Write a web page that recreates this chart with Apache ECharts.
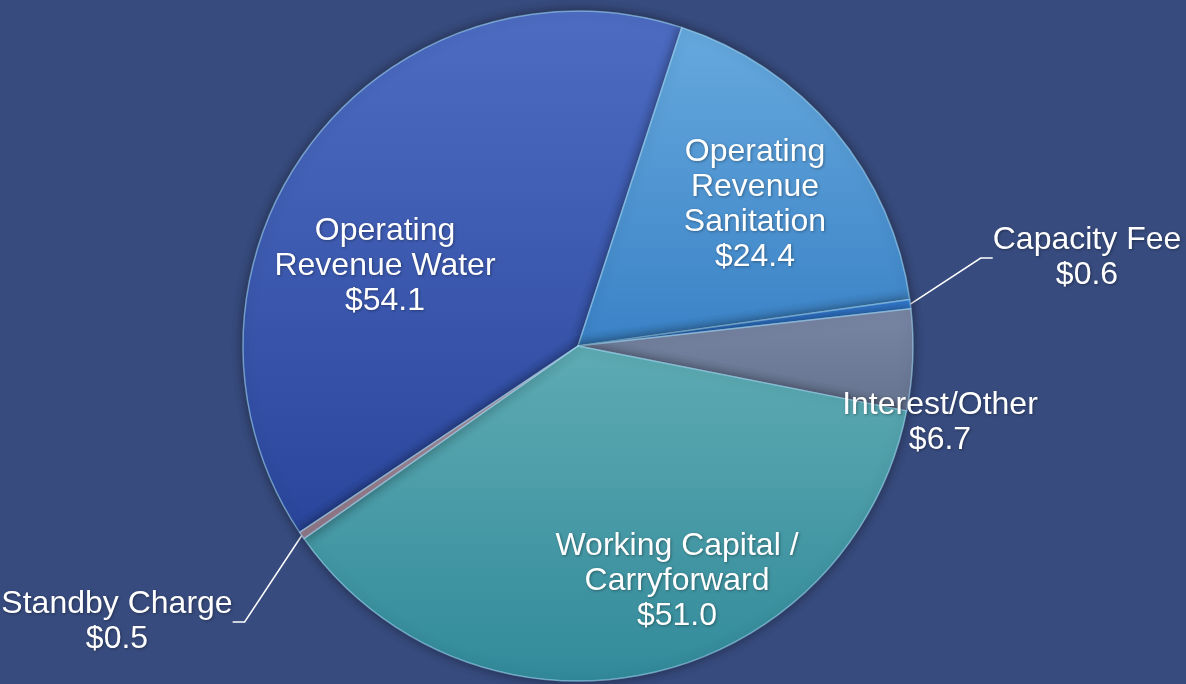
<!DOCTYPE html>
<html>
<head>
<meta charset="utf-8">
<script src="https://cdn.jsdelivr.net/npm/echarts@6/dist/echarts.min.js"></script>
<style>
  html, body { margin: 0; padding: 0; background: #374b7e; }
  #main { width: 1186px; height: 684px; }
</style>
</head>
<body>
<div id="main"></div>
<script>
  // slice names and values ($ millions), clockwise from the Water slice
  var names = ['Operating\nRevenue Water', 'Operating\nRevenue\nSanitation', 'Capacity Fee', 'Interest/Other', 'Working Capital /\nCarryforward', 'Standby Charge'];
  var values = [54.1, 24.4, 0.6, 6.7, 51.0, 0.5];

  // gradient colours per slice [top, bottom]
  var colorsTop = ['#4d6cc2', '#66a9de', '#3580d8', '#7886a4', '#5eabb3', '#a890a0'];
  var colorsBottom = ['#2a469c', '#3a82c6', '#2a6cc4', '#65738f', '#328a9a', '#8f7888'];
  // label centres (Excel places them by hand)
  var labelPos = [[385, 266], [755, 205], [1087, 258], [940, 423], [677, 581], [117, 622]];
  var outside = [false, false, true, false, false, true];

  var chart = echarts.init(document.getElementById('main'));

  var seriesData = [];
  for (var i = 0; i < values.length; i++) {
    seriesData.push({
      name: names[i],
      value: values[i],
      itemStyle: {
        color: new echarts.graphic.LinearGradient(0, 0, 0, 1, [
          { offset: 0, color: colorsTop[i] },
          { offset: 1, color: colorsBottom[i] }
        ])
      },
      label: {
        position: outside[i] ? 'outside' : 'inside'
      },
      labelLine: { show: outside[i] }
    });
  }

  var option = {
    backgroundColor: '#374b7e',
    series: [{
      type: 'pie',
      center: [578, 346],
      radius: 335,
      startAngle: 213.8,
      clockwise: true,
      avoidLabelOverlap: false,
      data: seriesData,
      itemStyle: {
        borderColor: 'rgba(170,225,255,0.55)',
        borderWidth: 1.5,
        shadowBlur: 12,
        shadowColor: 'rgba(0,0,0,0.45)'
      },
      label: {
        show: true,
        color: '#ffffff',
        fontFamily: 'Liberation Sans, Arial, sans-serif',
        fontSize: 32,
        lineHeight: 35,
        align: 'center',
        textShadowColor: 'rgba(0,0,0,0.35)',
        textShadowBlur: 3,
        textShadowOffsetX: 1,
        textShadowOffsetY: 1,
        formatter: function (p) {
          return p.name + '\n$' + p.value.toFixed(1);
        }
      },
      labelLine: {
        length: 30,
        length2: 12,
        lineStyle: { color: '#ffffff', width: 1.5 }
      },
      labelLayout: function (params) {
        var pos = labelPos[params.dataIndex];
        return {
          x: pos[0],
          y: pos[1],
          align: 'center',
          verticalAlign: 'middle'
        };
      },
      emphasis: { disabled: true }
    }]
  };

  chart.setOption(option);
</script>
</body>
</html>
